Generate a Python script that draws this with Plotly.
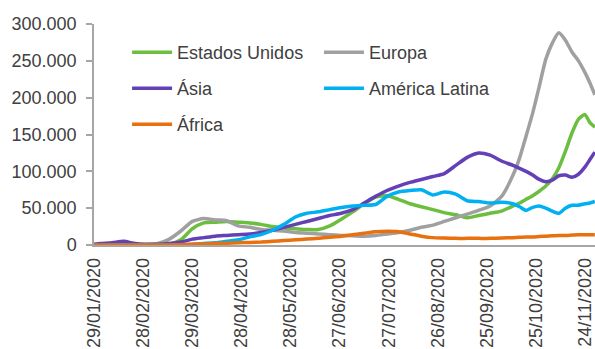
import pandas as pd
import plotly.graph_objects as go

# day offsets from 29/01/2020
days = [0, 4, 11, 18, 25, 32, 39, 46, 53, 60, 67, 74, 81, 88, 95, 102, 109, 116, 123, 130,
        137, 144, 151, 158, 165, 172, 179, 186, 193, 200, 207, 214, 221, 228, 235, 242, 249,
        256, 260, 264, 268, 272, 276, 280, 284, 288, 292, 296, 300, 303, 306]

# values in thousands of daily cases
estados_unidos = [0, 0, 0, 0, 0, 0, 0, 1, 7, 22, 30, 31, 32, 31, 30, 28, 25, 23, 22, 21,
                  21, 26, 35, 45, 56, 65, 67, 62, 56, 52, 48, 44, 41, 37, 40, 43, 46,
                  53, 57, 62, 67, 73, 80, 90, 105, 127, 152, 171, 177, 166, 160]
europa = [0, 0, 0, 0, 0, 0.5, 2, 8, 19, 32, 36, 34, 33, 26, 24, 21, 20, 19, 17, 16,
          15, 14, 13, 12.5, 12, 13, 15, 17, 20, 24, 27, 32, 37, 42, 47, 53, 66,
          95, 118, 148, 179, 215, 252, 274, 288, 278, 262, 250, 234, 220, 204]
asia = [1, 2, 3, 5, 2, 1, 1, 2, 4, 8, 10, 12, 13, 14, 15, 17, 20, 24, 28, 32,
        36, 40, 43, 48, 57, 66, 74, 80, 85, 89, 93, 97, 108, 119, 125, 122, 114,
        108, 104, 100, 95, 89, 86, 88, 94, 95, 92, 96, 106, 116, 126]
america_latina = [0, 0, 0, 0, 0, 0, 0, 0, 0.5, 1, 2, 3, 5, 7, 11, 14, 20, 28, 38, 43,
                  45, 48, 51, 53, 54, 55, 66, 72, 74, 75, 68, 72, 69, 60, 59, 57, 58,
                  56, 52, 47, 51, 53, 50, 46, 43, 50, 54, 54, 56, 57, 59]
africa = [0, 0, 0, 0, 0, 0, 0, 0, 0.5, 1, 1.5, 2, 2.5, 3, 3.5, 4, 5, 6, 7, 8,
          9, 10.5, 12, 14, 16, 18, 18.5, 18, 15, 12, 10, 9.5, 9, 9, 9, 9, 9.5,
          10, 10.5, 11, 11, 11.5, 12, 12.5, 13, 13, 13.5, 14, 14, 14, 14]

tick_days = [0, 30, 60, 90, 120, 150, 180, 210, 240, 270, 300]
tick_labels = ["29/01/2020", "28/02/2020", "29/03/2020", "28/04/2020", "28/05/2020",
               "27/06/2020", "27/07/2020", "26/08/2020", "25/09/2020", "25/10/2020",
               "24/11/2020"]

base = pd.Timestamp("2020-01-29")
dates = base + pd.to_timedelta(days, unit="D")
tick_dates = base + pd.to_timedelta(tick_days, unit="D")

series = [
    ("Estados Unidos", estados_unidos, "#6CBE3F", "legend"),
    ("Europa", europa, "#A0A0A0", "legend2"),
    ("Ásia", asia, "#6340B5", "legend"),
    ("América Latina", america_latina, "#00B0F0", "legend2"),
    ("África", africa, "#E8700F", "legend"),
]

FONT = "Liberation Sans, Arial, sans-serif"
TXT = "#404040"

fig = go.Figure()
for i, (name, vals, color, leg) in enumerate(series):
    fig.add_trace(go.Scatter(
        x=dates, y=[v * 1000 for v in vals], name=name, mode="lines",
        line=dict(color=color, width=3.5, shape="spline", smoothing=0.6),
        legend=leg, legendgroup=name,
    ))

leg_common = dict(font=dict(family=FONT, size=18, color=TXT), bgcolor="rgba(0,0,0,0)",
                  orientation="v", xanchor="left", yanchor="top", tracegroupgap=9.5,
                  itemwidth=40)
fig.update_layout(
    width=595, height=349,
    margin=dict(l=94, r=0, t=24, b=104),
    paper_bgcolor="white", plot_bgcolor="white",
    separators=",.",
    font=dict(family=FONT, size=18, color=TXT),
    legend=dict(x=0.066, y=0.954, **leg_common),
    legend2=dict(x=0.449, y=0.954, **leg_common),
    showlegend=True,
)
fig.update_xaxes(
    type="date",
    range=[base - pd.Timedelta(hours=2), base + pd.Timedelta(days=306.1)],
    tickvals=tick_dates, ticktext=tick_labels, tickangle=-90,
    showgrid=False, zeroline=False, showline=True, linecolor="#A6A6A6", linewidth=1.5,
    ticks="", tickfont=dict(family=FONT, size=18, color=TXT), ticklabelstandoff=4,
)
fig.update_yaxes(
    range=[0, 300000], tickvals=[0, 50000, 100000, 150000, 200000, 250000, 300000],
    tickformat=",d", showgrid=False, zeroline=False, showline=True,
    linecolor="#A6A6A6", linewidth=1.5, ticks="outside", ticklen=6, tickcolor="#A6A6A6",
    tickwidth=1.5, tickfont=dict(family=FONT, size=18, color=TXT), ticklabelstandoff=6,
)

fig.write_html("out.html", config={"displayModeBar": False})
